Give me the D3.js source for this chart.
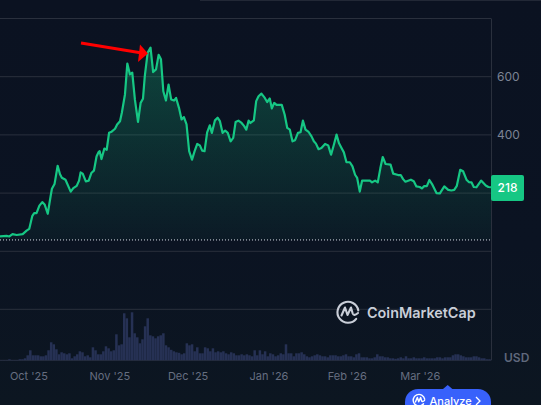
<!DOCTYPE html>
<html><head><meta charset="utf-8">
<script src="https://cdn.jsdelivr.net/npm/d3@7/dist/d3.min.js"></script>
<style>html,body{margin:0;padding:0;overflow:hidden;height:100%;background:linear-gradient(#0b1221 0,#0b1322 60%,#0c1621 100%)}svg{display:block}text{font-family:Inter,"Noto Sans",sans-serif}</style>
</head><body><svg id="c" width="541" height="405"></svg>
<script>
// days since 1 Oct 2025 for each price reading
const priceDays=[-11.1,-8.6,-7.5,-6.3,-4.7,-2.4,-0.9,0.1,1.3,2,2.9,4,5.1,6,7.2,8.3,8.8,9.8,11,11.9,12.6,14,16,17,18.3,19.2,19.8,20.6,21.8,22.9,23.9,24.9,25.9,26.7,27.1,27.8,28.9,29.8,30.7,31.7,33,33.8,34.9,35.6,36.8,37.7,38.7,39.6,40.6,41.8,42.8,43.7,44.4,45.5,46.6,47.6,48.7,49.7,50.6,51.5,52.5,53.5,54.5,55.6,56.4,57.5,58.5,59.4,60.4,61.4,62.5,63.5,64.5,65.5,66.4,67.3,68.3,69.3,70.1,71.3,72.3,73.2,74.2,75.2,76.2,77.3,78.3,79.2,80.3,81.5,82.5,83.3,84.2,84.9,86.2,87.1,88,89.1,90.4,91.3,92.3,93.1,94,94.9,96.9,98,99,100,101,102,103.1,104.1,105,106,107.2,108.3,109.2,110,111,112.1,113.5,114.7,115.8,116.9,117.9,118.8,119.8,120.7,121.7,123,124,125,125.8,126.8,127.7,130.7,131.5,132.7,133.7,134.7,135.6,136.7,138.6,139.6,141.5,142.5,143.4,144.3,146.4,147.5,148.5,149.8,150.6,151.5,152.5,153.5,154.5,156.2,157.5,159.2,160.7,161.9,163,164,165.3,166.4,167.7,168.6,169.6,170.5,171.5,173.3,175.1,176.1,177.1];
const prices=[51,53,51,59,56,59,71,77,122,131,131,157,169,161,129,189,215,231,294,265,253,246,205,217,225,243,271,267,240,243,269,277,326,341,344,317,353,349,407,411,421,436,447,476,539,645,608,614,522,445,510,524,602,683,700,616,625,675,660,550,518,573,522,518,527,493,453,461,436,344,315,344,369,364,346,344,409,433,407,450,459,447,407,415,407,378,390,444,449,441,430,418,449,441,450,516,533,542,527,513,525,491,510,503,503,470,424,418,378,382,407,409,449,418,410,395,378,370,351,355,369,364,332,367,401,372,355,340,306,306,292,263,252,205,243,243,237,243,237,286,324,300,298,267,262,262,248,239,246,241,223,221,216,224,224,245,231,200,199,223,211,209,211,225,280,275,246,238,237,221,220,243,226,221,220];
// daily volume, first bar is day -11
const volumeStartDay=-11;
const volumes=[0.3,0.3,0.3,0.3,1,0.3,0.3,0.3,1,1,2,5,10,5,5,5,4,4,5,10,18,16,11,6,8,7,6,7,2,4,6,9,8,4,5,3,13,10,6,6,9,14,12,9,10,26,15,16,47,42,23,48,27,23,17,21,34,42,25,24,22,24,25,27,15,13,10.5,9,8,7.5,6,7,17,15,16,9,13,7,7,13,12,9,12,8,9,8,9,7,6,8,7,5,5,6,5,6,5,4,10,5,10,6,9,4,7,6,4,5,7,6,16,7,7,4,7,7,8,6,4,3,4,5,6,5,4,4,3,5,5,5,4,4,5,6,4,4,3,6,7,3,3,3,2,2,3,6,4,4,3,3,2,2,1.5,2,3,2,4,2,2,3,2,2,2,3,2,2,2,2,3,3,2,3,3,3,5,6,6,5,4,3,3,3,4,4,3,2,2,1,1];
const tickDays=[0,31,61,92,122,150];
const tickLabels=["Oct '25","Nov '25","Dec '25","Jan '26","Feb '26","Mar '26"];
const priceTicks=[600,400];
const gridPrices=[800,600,400,200,0];
const startPrice=39;
const lastPrice=218;
const volumeGridTop=51;

const svg=d3.select("#c");
const x=d3.scaleLinear().domain([-11.1,177.1]).range([0,491]);
const y=d3.scaleLinear().domain([0,800]).range([251.3,18.5]);
const yV=d3.scaleLinear().domain([0,51]).range([360.3,309.3]);
const pts=priceDays.map((d,i)=>[d,prices[i]]);

const grad=svg.append("defs").append("linearGradient").attr("id","g").attr("x1",0).attr("x2",0).attr("y1",0).attr("y2",1);
grad.append("stop").attr("offset",0).attr("stop-color","#16c784").attr("stop-opacity",.28);
grad.append("stop").attr("offset",1).attr("stop-color","#16c784").attr("stop-opacity",.04);

const gridColor="#2a303d";
svg.append("rect").attr("x",200).attr("y",0).attr("width",341).attr("height",1).attr("fill","#222836");
svg.selectAll(".gl").data(gridPrices).join("line").attr("x1",0).attr("x2",491)
  .attr("y1",d=>y(d)).attr("y2",d=>y(d)).attr("stroke",gridColor);
svg.append("line").attr("x1",0).attr("x2",491).attr("y1",yV(volumeGridTop)).attr("y2",yV(volumeGridTop)).attr("stroke",gridColor);
svg.append("line").attr("x1",0).attr("x2",491).attr("y1",yV(0)).attr("y2",yV(0)).attr("stroke",gridColor);
svg.append("line").attr("x1",491.5).attr("x2",491.5).attr("y1",y(800)).attr("y2",yV(0)).attr("stroke",gridColor);

svg.selectAll(".vb").data(volumes).join("rect").attr("fill","#263154")
  .attr("x",(v,i)=>x(volumeStartDay+i-1)+0.1).attr("width",2.5)
  .attr("y",v=>yV(v)).attr("height",v=>yV(0)-yV(v));

svg.append("path").datum(pts).attr("fill","url(#g)")
  .attr("d",d3.area().x(d=>x(d[0])).y0(y(startPrice)).y1(d=>y(d[1])));
svg.append("line").attr("x1",0).attr("x2",491).attr("y1",y(startPrice)).attr("y2",y(startPrice))
  .attr("stroke","#d8dde6").attr("stroke-width",1).attr("stroke-dasharray","1 2");
svg.append("path").datum(pts).attr("fill","none").attr("stroke","#16c784").attr("stroke-width",2.2)
  .attr("stroke-linejoin","round").attr("d",d3.line().x(d=>x(d[0])).y(d=>y(d[1])));

svg.selectAll(".pt").data(priceTicks).join("text").attr("x",497).attr("y",d=>y(d)+4.3)
  .attr("fill","#7b8394").attr("font-size",12).text(d=>d);
svg.append("text").attr("x",504).attr("y",362).attr("fill","#5f687c").attr("font-size",12).attr("font-weight",600).text("USD");
svg.selectAll(".xt").data(tickDays).join("text").attr("x",d=>x(d)).attr("y",380).attr("text-anchor","middle")
  .attr("fill","#666e80").attr("font-size",11).text((d,i)=>tickLabels[i]);

svg.append("rect").attr("x",491).attr("y",175).attr("width",33).attr("height",26).attr("rx",2).attr("fill","#16c784");
svg.append("text").attr("x",507.5).attr("y",192.3).attr("text-anchor","middle").attr("fill","#fff").attr("font-size",12).attr("font-weight",500).text(lastPrice);

// red arrow
svg.append("line").attr("x1",81).attr("y1",43).attr("x2",142).attr("y2",53).attr("stroke","#ff0000").attr("stroke-width",3);
svg.append("path").attr("d","M140,44.5 L148,53.5 L138,62 Z").attr("fill","#ff0000");

// logo
const logo=(g,c,w)=>{
  g.append("path").attr("d","M8.2,6.8 A10.5,10.5 0 1 1 10.3,-1.5").attr("fill","none").attr("stroke",c).attr("stroke-width",w).attr("stroke-linecap","round");
  g.append("path").attr("d","M-6.5,3.5 L-3,-4.5 L-0.5,3 L3,-4.5 L4.7,1.5 Q5.8,4.5 10,1").attr("fill","none").attr("stroke",c).attr("stroke-width",w).attr("stroke-linejoin","round").attr("stroke-linecap","round");
};
logo(svg.append("g").attr("transform","translate(348,312)"),"#c9ced8",2.1);
svg.append("text").attr("x",367).attr("y",318).attr("fill","#c9ced8").attr("font-size",14.4).attr("font-weight",600).text("CoinMarketCap");

// analyze button
svg.append("path").attr("d","M443,389 L447.7,385 L452.4,389 Z").attr("fill","#3861fb");
svg.append("rect").attr("x",405).attr("y",389).attr("width",86).attr("height",40).attr("rx",13).attr("fill","#3861fb");
logo(svg.append("g").attr("transform","translate(419,400) scale(.55)"),"#fff",2.6);
svg.append("text").attr("x",429.5).attr("y",405).attr("fill","#fff").attr("font-size",11).attr("font-weight",500).text("Analyze");
svg.append("path").attr("d","M476,397 L480,401 L476,405").attr("fill","none").attr("stroke","#fff").attr("stroke-width",1.3);
</script></body></html>
